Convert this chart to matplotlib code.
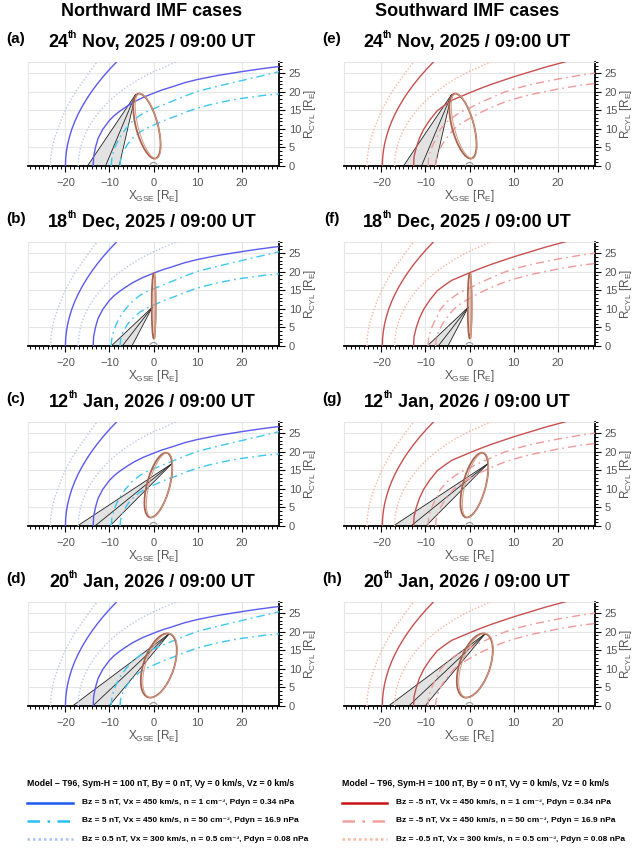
import matplotlib
matplotlib.use("Agg")
import matplotlib.pyplot as plt
from matplotlib.patches import Ellipse, Polygon
from matplotlib.lines import Line2D
from matplotlib.ticker import MultipleLocator

plt.rcParams['font.family'] = ['Liberation Sans', 'DejaVu Sans']
plt.rcParams['mathtext.fontset'] = 'custom'
plt.rcParams['mathtext.rm'] = 'Liberation Sans'
plt.rcParams['mathtext.bf'] = 'Liberation Sans:bold'
plt.rcParams['mathtext.it'] = 'Liberation Sans:italic'

# ---------------- data ----------------
column_titles = ["Northward IMF cases", "Southward IMF cases"]
panel_letters = [["(a)", "(b)", "(c)", "(d)"], ["(e)", "(f)", "(g)", "(h)"]]
date_day = ["24", "18", "12", "20"]
date_sup = ["th", "th", "th", "th"]
date_rest = ["Nov, 2025 / 09:00 UT", "Dec, 2025 / 09:00 UT",
             "Jan, 2026 / 09:00 UT", "Jan, 2026 / 09:00 UT"]

# cone: apex and three base points on the X axis (per row)
cone_apex_x = [-4.1, -0.3, 4.2, 3.6]
cone_apex_y = [19.2, 10.4, 16.8, 19.5]
cone_base_outer = [-15.0, -9.6, -17.3, -18.4]
cone_base_mid = [-10.9, -7.1, -13.3, -13.8]
cone_base_inner = [-7.8, -4.9, -9.9, -10.1]

# orbit ellipse (per row): centre, major, minor, angle (data space)
orb_cx = [-1.5, 0.05, 1.1, 1.2]
orb_cy = [10.75, 10.8, 11.0, 10.9]
orb_major = [17.9, 17.5, 17.8, 17.8]
orb_minor = [5.0, 0.9, 5.2, 7.0]
orb_angle = [102.3, 90.0, 77.8, 75.0]

# ---- Northward boundaries ----
# solid: Bz = 5 nT, n = 1
n_mp1_x = [-13.7, -13.6, -13.2, -12.6, -11.5, -10.0, -8.9, -7.5, -6.0, -4.5, -2.3, 0.0, 2.0, 4.2,
           7.0, 10.0, 14.7, 20.0, 24.0, 28.5]
n_mp1_y = [0.0, 2.5, 4.9, 7.4, 9.9, 12.3, 13.6, 14.9, 16.1, 17.2, 18.5, 19.6, 20.5, 21.3,
           22.4, 23.3, 24.4, 25.4, 26.1, 26.8]
n_bs1_x = [-20.0, -19.94, -19.76, -19.47, -19.05, -18.52, -17.87, -17.1, -16.21, -15.2, -14.08,
           -12.84, -11.48, -10.0, -8.4, -7.1]
n_bs1_y = [0, 2, 4, 6, 8, 10, 12, 14, 16, 18, 20, 22, 24, 26, 28, 29.5]
# dash-dot: Bz = 5 nT, n = 50
n_bs2_x = [-9.6, -9.47, -9.07, -8.4, -7.5, -6.3, -4.8, -3.0, -1.1, 0.0, 2.5, 5.0, 7.5, 10.0,
           12.5, 15.0, 17.5, 20.0, 22.5, 25.0, 28.5]
n_bs2_y = [0.0, 2.0, 4.0, 6.0, 8.0, 10.0, 12.0, 13.7, 14.9, 15.4, 16.6, 17.8, 19.0, 20.1,
           20.85, 21.6, 22.3, 23.0, 23.7, 24.4, 25.4]
n_mp2_x = [-7.6, -7.5, -7.2, -6.6, -5.8, -4.7, -3.0, -1.5, 0.0, 2.5, 5.0, 7.5, 10.0, 12.5,
           15.0, 17.5, 20.0, 22.5, 25.0, 28.5]
n_mp2_y = [0.0, 1.5, 3.0, 4.5, 6.0, 7.5, 9.2, 10.2, 11.0, 12.3, 13.4, 14.6, 15.6, 16.4,
           17.1, 17.7, 18.2, 18.6, 19.0, 19.4]
# dotted: Bz = 0.5 nT, n = 0.5
n_bs3_x = [-23.4, -23.33, -23.12, -22.78, -22.3, -21.75, -21.1, -20.4, -19.6, -18.7, -17.7,
           -16.5, -15.3, -14.1, -12.8, -11.8]
n_bs3_y = [0, 2, 4, 6, 8, 10, 12, 14, 16, 18, 20, 22, 24, 26, 28, 29.5]
n_mp3_x = [-17.1, -17.0, -16.68, -16.15, -15.41, -14.44, -13.23, -11.79, -10.08, -8.08, -5.77,
           -3.09, 0.0, 4.92, 7.8]
n_mp3_y = [0.0, 2.24, 4.47, 6.69, 8.9, 11.08, 13.23, 15.36, 17.45, 19.51, 21.52, 23.48,
           25.39, 27.89, 29.11]

# ---- Southward boundaries ----
s_mp1_x = [-12.7, -12.6, -12.1, -11.4, -10.4, -9.0, -7.3, -5.5, -4.0, -2.0, 0.0, 2.5, 5.0,
           7.5, 10.0, 12.5, 15.0, 17.5, 20.0, 22.5, 24.0]
s_mp1_y = [0.0, 2.5, 4.9, 7.4, 9.9, 12.4, 14.9, 16.5, 17.7, 18.7, 19.7, 20.9, 22.0,
           23.0, 24.0, 24.9, 25.8, 26.7, 27.5, 28.3, 28.8]
s_bs1_x = [-19.8, -19.74, -19.56, -19.27, -18.85, -18.32, -17.67, -16.9, -16.01, -15.0, -13.88,
           -12.64, -11.28, -9.8, -8.2, -6.9]
s_bs1_y = [0, 2, 4, 6, 8, 10, 12, 14, 16, 18, 20, 22, 24, 26, 28, 29.5]
s_bs2_x = [-9.4, -9.3, -8.9, -8.2, -7.3, -6.6, -5.0, -3.0, -1.5, 0.0, 2.5, 5.0, 7.5, 10.0,
           12.5, 15.0, 17.5, 20.0, 22.5, 25.0, 28.5]
s_bs2_y = [0.0, 2.0, 4.0, 6.0, 8.0, 9.9, 12.0, 13.8, 14.8, 15.6, 17.1, 18.4, 19.7, 20.7,
           21.5, 22.2, 22.8, 23.4, 23.9, 24.4, 25.0]
s_mp2_x = [-7.7, -7.6, -7.3, -6.8, -6.1, -5.2, -3.6, -2.0, 0.0, 2.5, 5.0, 7.5, 10.0, 12.5,
           15.0, 17.5, 20.0, 22.5, 25.0, 28.5]
s_mp2_y = [0.0, 1.5, 3.0, 4.5, 6.0, 7.5, 9.9, 11.4, 12.8, 14.4, 15.8, 17.0, 18.0, 18.8,
           19.5, 20.1, 20.7, 21.2, 21.7, 22.2]
s_bs3_x = [-23.3, -23.23, -23.02, -22.68, -22.2, -21.65, -21.0, -20.3, -19.5, -18.6, -17.6,
           -16.4, -15.2, -14.0, -12.7, -11.7]
s_bs3_y = [0, 2, 4, 6, 8, 10, 12, 14, 16, 18, 20, 22, 24, 26, 28, 29.5]
s_mp3_x = [-17.0, -16.9, -16.58, -16.05, -15.31, -14.35, -13.15, -11.73, -10.05, -8.08, -5.8,
           -3.2, -0.2, 4.5, 7.3]
s_mp3_y = [0.0, 2.24, 4.47, 6.69, 8.9, 11.08, 13.23, 15.36, 17.45, 19.51, 21.52, 23.48,
           25.39, 27.89, 29.11]

legend_header = "Model \u2013 T96, Sym-H = 100 nT, By = 0 nT, Vy = 0 km/s, Vz = 0 km/s"
legend_north = ["Bz = 5 nT, Vx = 450 km/s, n = 1 cm\u207b\u00b3, Pdyn = 0.34 nPa",
                "Bz = 5 nT, Vx = 450 km/s, n = 50 cm\u207b\u00b3, Pdyn = 16.9 nPa",
                "Bz = 0.5 nT, Vx = 300 km/s, n = 0.5 cm\u207b\u00b3, Pdyn = 0.08 nPa"]
legend_south = ["Bz = -5 nT, Vx = 450 km/s, n = 1 cm\u207b\u00b3, Pdyn = 0.34 nPa",
                "Bz = -5 nT, Vx = 450 km/s, n = 50 cm\u207b\u00b3, Pdyn = 16.9 nPa",
                "Bz = -0.5 nT, Vx = 300 km/s, n = 0.5 cm\u207b\u00b3, Pdyn = 0.08 nPa"]

# ---------------- styles ----------------
DASHDOT = (0, (6, 3, 1.2, 3))
DOTTED = (0, (1, 1.4))
north_curves = [(n_mp1_x, n_mp1_y, '#5a5af0', '-'), (n_bs1_x, n_bs1_y, '#5a5af0', '-'),
                (n_bs2_x, n_bs2_y, '#3cc8f0', DASHDOT), (n_mp2_x, n_mp2_y, '#3cc8f0', DASHDOT),
                (n_bs3_x, n_bs3_y, '#bcc6ea', DOTTED), (n_mp3_x, n_mp3_y, '#bcc6ea', DOTTED)]
south_curves = [(s_mp1_x, s_mp1_y, '#c85050', '-'), (s_bs1_x, s_bs1_y, '#c85050', '-'),
                (s_bs2_x, s_bs2_y, '#f09a9a', DASHDOT), (s_mp2_x, s_mp2_y, '#f09a9a', DASHDOT),
                (s_bs3_x, s_bs3_y, '#f8b4a0', DOTTED), (s_mp3_x, s_mp3_y, '#f8b4a0', DOTTED)]
legend_colors = [['#1a5af0', '#28c0f4', '#a8c0f0'], ['#c81414', '#f4a0a0', '#f8b8a0']]
legend_styles = ['-', (0, (5, 3, 1, 3)), (0, (1, 1.2))]

W, H = 633, 851
fig = plt.figure(figsize=(W / 100, H / 100), dpi=100)
renderer = fig.canvas.get_renderer()

col_left = [28, 344]
ax_w = 251
row_top = [62, 242, 422, 602]
ax_h = 104
title_cx = [152, 467]


def text_width(s, size):
    t = fig.text(0, 0, s, fontsize=size, fontweight='bold')
    w = t.get_window_extent(renderer=renderer).width
    t.remove()
    return w


for c in range(2):
    fig.text(title_cx[c] / W, 1 - 12 / H, column_titles[c], ha='center', va='center',
             fontsize=13, fontweight='bold')
    curves = north_curves if c == 0 else south_curves
    for r in range(4):
        ax = fig.add_axes([col_left[c] / W, 1 - (row_top[r] + ax_h) / H, ax_w / W, ax_h / H])
        ax.set_xlim(-28.5, 28.5)
        ax.set_ylim(0, 28)
        ax.set_axisbelow(True)
        ax.grid(True, which='major', color='#e6e6e6', lw=0.8)
        for s in ['top', 'left']:
            ax.spines[s].set_color('#e6e6e6')
            ax.spines[s].set_linewidth(0.8)
        for s in ['bottom', 'right']:
            ax.spines[s].set_linewidth(1.3)
        ax.yaxis.tick_right()
        ax.yaxis.set_label_position('right')
        ax.xaxis.set_major_locator(MultipleLocator(10))
        ax.xaxis.set_minor_locator(MultipleLocator(1))
        ax.yaxis.set_major_locator(MultipleLocator(5))
        ax.yaxis.set_minor_locator(MultipleLocator(1))
        ax.tick_params(which='major', length=4, width=0.8, labelsize=8, labelcolor='#555555')
        ax.tick_params(which='minor', length=2.5, width=0.7)
        ax.tick_params(axis='x', which='major', pad=5)
        ax.tick_params(axis='y', which='major', pad=3)
        ax.set_xlabel(r"X$_{\mathrm{GSE}}$ [R$_{\mathrm{E}}$]", fontsize=8.5, color='#555555', labelpad=0)
        ax.set_ylabel(r"R$_{\mathrm{CYL}}$ [R$_{\mathrm{E}}$]", fontsize=8.5, color='#555555', labelpad=1)

        # cone
        poly = Polygon([(cone_base_outer[r], 0), (cone_apex_x[r], cone_apex_y[r]), (cone_base_inner[r], 0)],
                       closed=True, facecolor='#e2e2e2', edgecolor='none', zorder=2)
        ax.add_patch(poly)
        for bx in (cone_base_outer[r], cone_base_mid[r], cone_base_inner[r]):
            ax.plot([bx, cone_apex_x[r]], [0, cone_apex_y[r]], color='#222222', lw=0.6, zorder=3)

        # boundaries
        for xs, ys, col, ls in curves:
            ax.plot(xs, ys, color=col, ls=ls, lw=1.0, zorder=4, solid_joinstyle='round')

        # orbit
        ax.add_patch(Ellipse((orb_cx[r], orb_cy[r]), orb_major[r], orb_minor[r], angle=orb_angle[r],
                             fill=False, edgecolor='#a86450', lw=1.3, zorder=5))
        ax.add_patch(Ellipse((orb_cx[r] + 0.25, orb_cy[r]), orb_major[r], max(orb_minor[r] - 0.5, 0.3),
                             angle=orb_angle[r], fill=False, edgecolor='#d29a80', lw=0.7, zorder=5))
        # Earth
        ax.add_patch(Ellipse((0, 0), 1.7, 1.9, fill=False, edgecolor='#999999', lw=0.8, zorder=5))

        # panel letter
        base_px = row_top[r] - 15
        fig.text((col_left[c] - 12) / W, 1 - (row_top[r] - 23) / H, panel_letters[c][r],
                 ha='center', va='center', fontsize=11, fontweight='bold')
        # date title with small superscript
        w_a = text_width(date_day[r], 13)
        w_s = text_width(date_sup[r], 7)
        w_r = text_width(" " + date_rest[r], 13)
        x0 = title_cx[c] - (w_a + w_s + w_r) / 2
        fig.text(x0 / W, 1 - base_px / H, date_day[r], ha='left', va='baseline',
                 fontsize=13, fontweight='bold')
        fig.text((x0 + w_a) / W, 1 - (base_px - 9) / H, date_sup[r], ha='left', va='baseline',
                 fontsize=7, fontweight='bold')
        fig.text((x0 + w_a + w_s) / W, 1 - base_px / H, " " + date_rest[r], ha='left', va='baseline',
                 fontsize=13, fontweight='bold')

# legends
leg_x0 = [26.7, 341.7]
leg_x1 = [73.3, 386.7]
leg_tx = [81.7, 396.0]
leg_rows = [802.7, 821.0, 839.3]
for c in range(2):
    fig.text(leg_x0[c] / W, 1 - 783 / H, legend_header, ha='left', va='center',
             fontsize=6.3, fontweight='bold')
    texts = legend_north if c == 0 else legend_south
    for i in range(3):
        yy = 1 - leg_rows[i] / H
        fig.add_artist(Line2D([leg_x0[c] / W, leg_x1[c] / W], [yy, yy], transform=fig.transFigure,
                              color=legend_colors[c][i], ls=legend_styles[i], lw=1.8))
        fig.text(leg_tx[c] / W, yy, texts[i], ha='left', va='center', fontsize=6.0, fontweight='bold')

fig.savefig("out.png", dpi=100)
